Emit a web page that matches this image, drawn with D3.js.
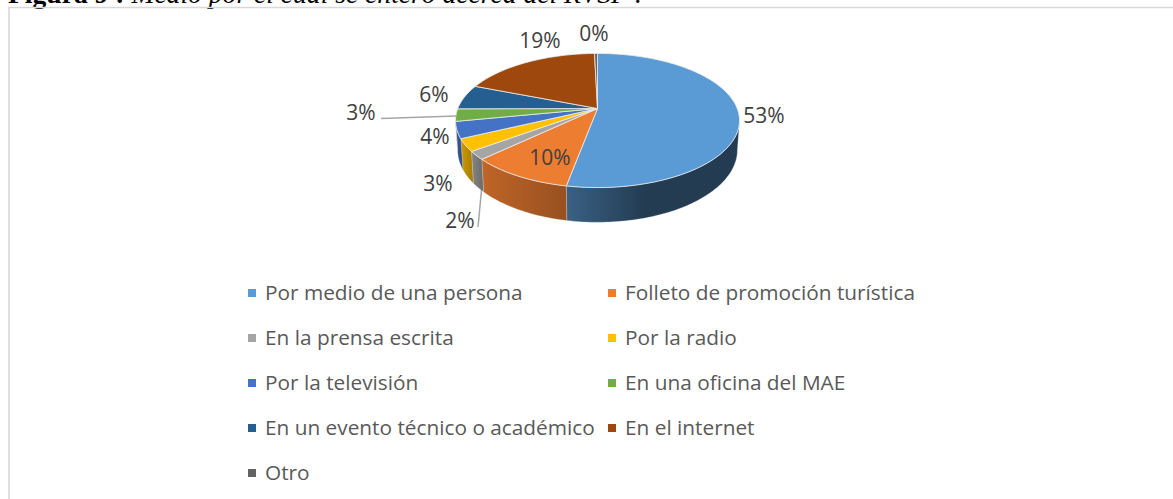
<!DOCTYPE html>
<html>
<head>
<meta charset="utf-8">
<script src="https://cdnjs.cloudflare.com/ajax/libs/d3/7.8.5/d3.min.js"></script>
<style>
body { margin: 0; background: #fff; }
text { font-family: "Open Sans", sans-serif; }
</style>
</head>
<body>
<script>
//chart data, clockwise from the top of the pie
var categories = ["Por medio de una persona", "Folleto de promoción turística", "En la prensa escrita", "Por la radio", "Por la televisión", "En una oficina del MAE", "En un evento técnico o académico", "En el internet", "Otro"];
var values = [53, 10, 2, 3, 4, 3, 6, 18.7, 0.4];
var colors = ["#5b9bd5", "#ed7d31", "#a5a5a5", "#ffc000", "#4472c4", "#70ad47", "#255e91", "#9e480e", "#636363"];
var titleBold = "Figura 9 : ";
var titleItalic = "Medio por el cual se enteró acerca del RVSP :";

var width = 1173, height = 499;

//pie sits on a tilted disc, so the apex is above the middle of the ellipse
var cx = 597.5, cy = 108.5, rx = 139.7, ry = 64.9, persp = 0.179, depth = 28.5;

var svg = d3.select("body").append("svg")
	.attr("width", width)
	.attr("height", height)
	.style("display", "block");

var defs = svg.append("defs");

//title cut off by the top of the image, same as the scan
var title = svg.append("text")
	.attr("x", 8).attr("y", 3)
	.style("font-family", "'Liberation Serif', serif")
	.style("font-size", "27.6px")
	.style("font-style", "italic")
	.attr("fill", "#000");
title.append("tspan").style("font-weight", "bold").style("font-style", "normal").text(titleBold);
title.append("tspan").text(titleItalic);

//chart frame, only left and top show
svg.append("path")
	.attr("d", "M9,499V7.5H1173")
	.attr("fill", "none")
	.attr("stroke", "#d9d9d9")
	.attr("stroke-width", 1.6);

var slices = d3.pie().sort(null).value(function(d){ return d; })(values);

//point on the top disc (lift = 0) or on the bottom rim (lift = 1)
function project(angle, lift){
	var X = Math.sin(angle), Y = -Math.cos(angle);
	var w = 1 - persp * Y;
	var s = lift ? 0.985 : 1;
	return [cx + rx * s * X / w, cy + (ry * Y + lift * depth) / w];
}

function arcPoints(a0, a1, lift){
	var n = Math.max(2, Math.ceil((a1 - a0) / 0.02));
	return d3.range(n + 1).map(function(i){
		return project(a0 + (a1 - a0) * i / n, lift);
	});
}

var line = d3.line();

//only the part of the rim facing the viewer has a side wall
var frontStart = Math.PI * 0.56, frontEnd = Math.PI * 1.44;

var sides = slices.map(function(d, i){
	return { a0: Math.max(d.startAngle, frontStart), a1: Math.min(d.endAngle, frontEnd), i: i };
}).filter(function(d){ return d.a1 > d.a0; });

sides.forEach(function(d){
	var top = arcPoints(d.a0, d.a1, 0), bottom = arcPoints(d.a0, d.a1, 1).reverse();
	var xs = top.concat(bottom).map(function(p){ return p[0]; });
	var base = d3.color(colors[d.i]);
	var grad = defs.append("linearGradient")
		.attr("id", "side" + d.i)
		.attr("gradientUnits", "userSpaceOnUse")
		.attr("x1", d3.max(xs)).attr("x2", d3.min(xs))
		.attr("y1", 0).attr("y2", 0);
	if (d.i == 0){
		grad.append("stop").attr("offset", 0).attr("stop-color", "#233c52");
		grad.append("stop").attr("offset", 0.55).attr("stop-color", "#233c52");
		grad.append("stop").attr("offset", 1).attr("stop-color", "#3a6184");
	} else {
		grad.append("stop").attr("offset", 0).attr("stop-color", base.darker(1.25));
		grad.append("stop").attr("offset", 1).attr("stop-color", base.darker(0.6));
	}
	svg.append("path")
		.attr("d", line(top.concat(bottom)) + "Z")
		.attr("fill", "url(#side" + d.i + ")")
		.attr("stroke", "#d8d8d8")
		.attr("stroke-opacity", 0.5)
		.attr("stroke-width", 0.6);
});

//top faces
svg.selectAll(".slice")
	.data(slices)
	.enter()
	.append("path")
	.attr("class", "slice")
	.attr("d", function(d){
		return line([[cx, cy]].concat(arcPoints(d.startAngle, d.endAngle, 0))) + "Z";
	})
	.attr("fill", function(d, i){ return colors[i]; })
	.attr("stroke", "#eeeeee")
	.attr("stroke-width", 0.8)
	.attr("stroke-linejoin", "round");

//labels follow the slice order
var labelPos = [[764, 116], [550, 158], [460, 221], [438, 184], [435, 137], [361, 113], [434, 95], [540, 41], [594, 34]];

svg.selectAll(".pct")
	.data(values)
	.enter()
	.append("text")
	.attr("class", "pct")
	.attr("x", function(d, i){ return labelPos[i][0]; })
	.attr("y", function(d, i){ return labelPos[i][1]; })
	.attr("dy", "0.35em")
	.attr("text-anchor", "middle")
	.attr("fill", "#404040")
	.style("font-size", "21px")
	.text(function(d){ return Math.round(d) + "%"; });

//leader lines for the two labels pushed out of the pie
var leaders = [[[381, 118.5], [456, 116]], [[478, 227], [481.5, 190]]];
svg.selectAll(".leader")
	.data(leaders)
	.enter()
	.append("path")
	.attr("class", "leader")
	.attr("d", function(d){ return line(d); })
	.attr("fill", "none")
	.attr("stroke", "#a6a6a6")
	.attr("stroke-width", 1.5);

//legend, two columns
var legendX = d3.scalePoint().domain([0, 1]).range([248, 608]);
var legendY = d3.scalePoint().domain(d3.range(5)).range([293, 473]);

var legend = svg.selectAll(".legend")
	.data(categories)
	.enter()
	.append("g")
	.attr("class", "legend")
	.attr("transform", function(d, i){
		return "translate(" + legendX(i % 2) + "," + legendY(Math.floor(i / 2)) + ")";
	});

legend.append("rect")
	.attr("x", 0).attr("y", -4)
	.attr("width", 8).attr("height", 8)
	.attr("fill", function(d, i){ return colors[i]; });

legend.append("text")
	.attr("x", 17)
	.attr("dy", "0.35em")
	.attr("fill", "#595959")
	.style("font-size", "20.8px")
	.text(function(d){ return d; });
</script>
</body>
</html>
